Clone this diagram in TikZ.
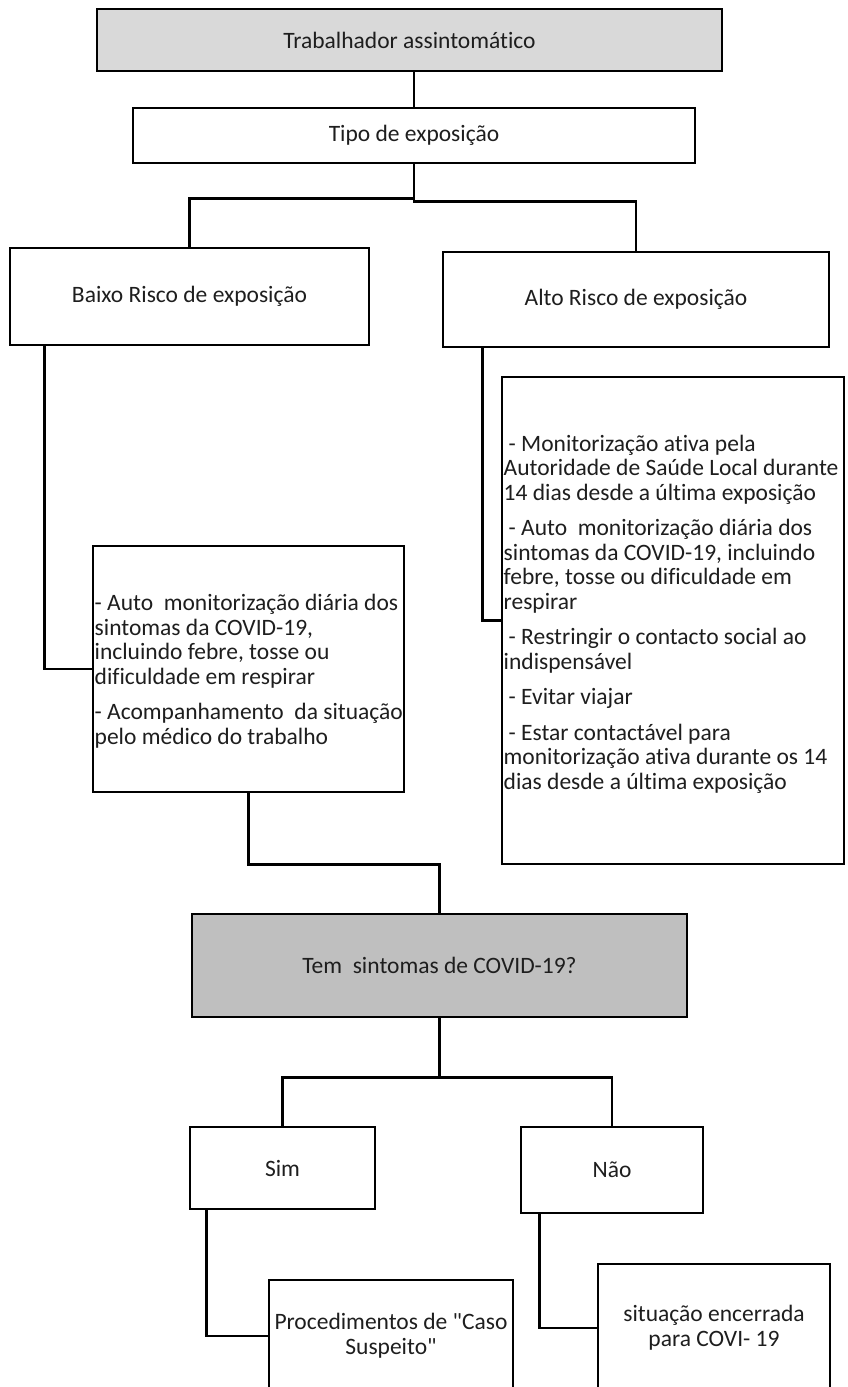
\documentclass[tikz,border=0pt]{standalone}
\usepackage{fontspec}
\setmainfont{Carlito}[Ligatures=NoCommon]
\newfontfamily\carl{Carlito}[Ligatures=NoCommon]
\definecolor{lightfill}{RGB}{217,217,217}
\definecolor{midfill}{RGB}{191,191,191}
\definecolor{txtcol}{RGB}{30,30,30}
\tikzset{
  box/.style={draw=black, line width=2.8pt, inner sep=0pt, fill=white,
    text=txtcol, align=center, font=\carl\fontsize{23.5}{25}\selectfont},
  conn/.style={draw=black, line width=2.8pt},
  txt/.style={inner sep=0pt, align=left, text=txtcol,
    font=\carl\fontsize{23.5}{24.5}\selectfont},
}
\begin{document}
\begin{tikzpicture}[x=1pt,y=-1pt]
\clip (0,0) rectangle (847,1387);
\fill[white] (0,0) rectangle (847,1387);
% boxes
\node[box, fill=lightfill, minimum width=625pt, minimum height=62pt] (b1) at (409.5,40) {Trabalhador assintomático};
\node[box, minimum width=562pt, minimum height=55pt] (b2) at (414,135.5) {Tipo de exposição};
\node[box, minimum width=359pt, minimum height=97pt] (b3) at (189.5,296.5) {Baixo Risco de exposição};
\node[box, minimum width=386pt, minimum height=95pt] (b4) at (636,299.5) {Alto Risco de exposição};
\node[box, minimum width=311pt, minimum height=246pt] (b5) at (248.5,669) {};
\node[box, minimum width=342pt, minimum height=487pt] (b6) at (673,620.5) {};
\node[box, fill=midfill, minimum width=495pt, minimum height=103pt] (b7) at (439.5,965.5) {Tem\ \ sintomas de COVID-19?};
\node[box, minimum width=185pt, minimum height=82pt] (b8) at (282.5,1168) {Sim};
\node[box, minimum width=182pt, minimum height=86pt] (b9) at (612,1170) {Não};
\node[box, minimum width=244pt, minimum height=112pt] (b10) at (391,1336) {Procedimentos de "Caso\\Suspeito"};
\node[box, minimum width=232pt, minimum height=128pt] (b11) at (714,1328) {situação encerrada\\para COVI- 19};
% texts of the list boxes
\node[txt, anchor=west] (t5) at (94.5,671) {%
- Auto\ \ monitorização diária dos\\
sintomas da COVID-19,\\
incluindo febre, tosse ou\\
dificuldade em respirar\\[11pt]
- Acompanhamento\ \ da situação\\
pelo médico do trabalho};
\node[txt, anchor=west] (t6) at (503.5,614) {%
\hspace*{5pt}- Monitorização ativa pela\\
Autoridade de Saúde Local durante\\
14 dias desde a última exposição\\[11pt]
\hspace*{5pt}- Auto\ \ monitorização diária dos\\
sintomas da COVID-19, incluindo\\
febre, tosse ou dificuldade em\\
respirar\\[11pt]
\hspace*{5pt}- Restringir o contacto social ao\\
indispensável\\[11pt]
\hspace*{5pt}- Evitar viajar\\[11pt]
\hspace*{5pt}- Estar contactável para\\
monitorização ativa durante os 14\\
dias desde a última exposição};
% connectors
\draw[conn] (b2.north) -- (b2.north |- b1.south);
\draw[conn] (b2.south) -- ++(0,34) -| (b3.north);
\draw[conn] (b2.south) -- ++(0,37) -| (b4.north);
\draw[conn] ([xshift=36pt]b3.south west) |- (b5.west);
\draw[conn] ([xshift=41pt]b4.south west) |- (b6.west);
\draw[conn] (b5.south) -- ++(0,71) -| (b7.north);
\draw[conn] (b7.south) -- ++(0,59) -| (b8.north);
\draw[conn] (b7.south) -- ++(0,59) -| (b9.north);
\draw[conn] ([xshift=18pt]b8.south west) |- (b10.west);
\draw[conn] ([xshift=20pt]b9.south west) |- (b11.west);
\end{tikzpicture}
\end{document}
